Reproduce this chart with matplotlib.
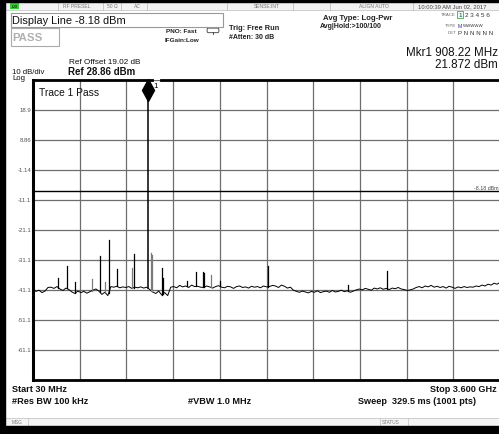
import numpy as np
import matplotlib
matplotlib.use("Agg")
import matplotlib.pyplot as plt
from matplotlib.patches import Rectangle, FancyBboxPatch

# ---------------- data ----------------
start_mhz = 30.0
stop_mhz = 3600.0
ref_level = 28.86
db_per_div = 10.0
display_line = -8.18

y_tick_labels = ["18.9", "8.86", "-1.14", "-11.1", "-21.1", "-31.1", "-41.1", "-51.1", "-61.1"]

noise_level = [
    -40.8, -41.6, -41.2, -42.0, -41.5, -40.3,
    -40.2, -40.6, -40.0, -40.8, -41.3, -40.5, -41.0,
    -41.8, -42.3, -41.5, -42.0, -41.6, -42.2, -41.7,
    -41.2, -40.8, -41.5, -42.6, -41.9, -43.0,
    -40.0, -40.2, -39.9, -40.4, -40.1, -40.3, -40.0, -40.6, -40.2, -40.4, -40.1, -40.5, -40.2,
    -41.0, -41.8, -42.3, -41.5, -42.8, -42.0, -43.0,
    -40.2, -40.0, -40.4, -39.6, -40.1, -39.8, -40.3, -39.5, -40.0, -39.9, -40.2,
    -40.3, -39.8, -40.1, -40.5, -40.0, -39.7, -40.2, -40.4, -39.9, -40.1, -40.6,
    -40.0, -39.8, -40.3, -40.1, -40.5, -39.9, -40.2, -40.0, -40.4, -39.8, -40.1,
    -40.0, -39.6, -39.8, -40.3, -39.5, -39.9, -40.5, -40.2,
    -41.2, -41.6, -41.9, -41.5, -41.8, -42.1, -41.6, -41.9, -41.4, -42.0, -41.7,
    -41.5, -41.9, -41.3, -41.8, -41.6, -41.2, -41.7, -41.4, -41.9, -41.5, -41.1,
    -40.8, -41.1, -40.6, -40.9, -41.2, -40.5, -40.8, -40.4, -40.9, -40.6, -41.0,
    -40.5, -40.7, -40.3, -40.8, -41.0, -41.3, -41.1,
    -40.8, -40.3, -40.0, -40.4, -39.8, -40.1, -39.6, -40.2, -39.9, -40.3,
    -40.0, -40.5, -39.9, -40.2, -40.6, -40.1, -40.4, -40.0, -40.3, -40.1,
    -40.2, -39.8, -40.0, -39.5, -39.8, -39.2, -39.5, -38.9, -39.2, -38.6,
]

spur_freq = [223, 288, 351, 479, 542, 580, 609, 670, 785, 800, 932, 938,
             1018, 1026, 1205, 1276, 1333, 1340, 1391, 1460, 1824, 2436, 2734]
spur_level = [-37.2, -33.2, -38.6, -37.5, -29.9, -38.6, -24.6, -34.1, -33.9, -29.2, -28.8, -29.5,
              -33.9, -37.0, -38.0, -35.0, -35.2, -35.5, -36.1, -38.3, -33.0, -39.5, -34.7]
spur_gray = [479, 580, 785, 932, 938, 1391]

marker_freq = 908.22
marker_level = 21.872

# ---------------- figure ----------------
W, H = 499, 435
fig = plt.figure(figsize=(W / 100, H / 100), dpi=100)
fig.patch.set_facecolor("white")
plt.rcParams["font.family"] = ["Liberation Sans", "DejaVu Sans"]

# overlay axes in pixel coordinates
ov = fig.add_axes([0, 0, 1, 1])
ov.set_xlim(0, W)
ov.set_ylim(H, 0)
ov.axis("off")

def pt(px):
    return px * 72 / 100.0

# black frame
ov.add_patch(Rectangle((0, 0), 5, H, color="black", zorder=5))
ov.add_patch(Rectangle((0, 0), W, 3, color="black", zorder=5))
ov.add_patch(Rectangle((0, 427), W, 8, color="black", zorder=5))

# top status bar
ov.add_patch(Rectangle((5, 3), W - 5, 7.5, facecolor="#f2f2f2", edgecolor="#c8c8c8", lw=0.6, zorder=2))
ov.add_patch(Rectangle((10, 3.5), 9, 6.5, facecolor="#33cc33", edgecolor="none", zorder=3))
ov.text(14.5, 6.8, "LXI", fontsize=3, ha="center", va="center", color="black", zorder=4)
for sx in [58, 103, 121, 147, 227, 293, 330, 413]:
    ov.plot([sx, sx], [3, 10.5], color="#c0c0c0", lw=0.6, zorder=3)
top_small = [(63, "RF PRESEL"), (107, "50 Ω"), (134, "AC"), (254, "SENSE:INT"), (359, "ALIGN AUTO"),
             (418, "10:00:39 AM Jun 02, 2017")]
for x, s in top_small:
    ov.text(x, 7, s, fontsize=3.6 if x < 400 else 4.2, color="#777777" if x < 400 else "#444444",
            ha="left", va="center", zorder=4)

# Display line box
ov.add_patch(Rectangle((11, 14), 212, 13.5, facecolor="white", edgecolor="#999999", lw=0.8, zorder=2))
ov.text(12, 21, "Display Line -8.18 dBm", fontsize=7.9, ha="left", va="center", color="#111111")
# PASS box
ov.add_patch(Rectangle((11, 29), 48, 17.5, facecolor="white", edgecolor="#aaaaaa", lw=0.8, zorder=2))
ov.text(12.5, 37.8, "PASS", fontsize=8.2, fontweight="bold", ha="left", va="center", color="#b0b0b0")

ov.text(166, 31.5, "PNO: Fast", fontsize=4.6, fontweight="bold", ha="left", va="center", color="#222222")
ov.text(165, 40, "IFGain:Low", fontsize=4.6, fontweight="bold", ha="left", va="center", color="#222222")
ov.add_patch(FancyBboxPatch((207.5, 29.5), 11, 3.8, boxstyle="round,pad=0.4,rounding_size=1.5",
                            facecolor="white", edgecolor="#333333", lw=0.6))
ov.plot([213, 213], [33.3, 35], color="#333333", lw=0.6)
ov.text(229, 29, "Trig: Free Run", fontsize=5.3, fontweight="bold", ha="left", va="center", color="#222222")
ov.text(229, 37.5, "#Atten: 30 dB", fontsize=5.0, fontweight="bold", ha="left", va="center", color="#222222")
ov.text(323, 18, "Avg Type: Log-Pwr", fontsize=5.6, fontweight="bold", ha="left", va="center", color="#222222")
ov.text(320, 27, "Avg|Hold:>100/100", fontsize=5.0, fontweight="bold", ha="left", va="center", color="#222222")

# trace block
ov.text(456, 15, "TRACE", fontsize=3.2, ha="right", va="center", color="#666666")
ov.text(456, 26, "TYPE", fontsize=3.2, ha="right", va="center", color="#666666")
ov.text(456, 33.5, "DET", fontsize=3.2, ha="right", va="center", color="#666666")
ov.add_patch(Rectangle((457.5, 11.5), 5.5, 7, facecolor="#e8ffe8", edgecolor="#44aa44", lw=0.6))
ov.text(460.2, 15.2, "1", fontsize=4.6, ha="center", va="center", color="#333399")
ov.text(465, 15.2, "2 3 4 5 6", fontsize=4.6, ha="left", va="center", color="#333333")
ov.text(458, 26, "M", fontsize=3.8, ha="left", va="center", color="#333399")
ov.text(463, 26, "WWWWW", fontsize=3.2, ha="left", va="center", color="#333333")
ov.text(458, 33.5, "P N N N N N", fontsize=4.4, ha="left", va="center", color="#333333")

# marker readout
ov.text(498, 52.5, "Mkr1 908.22 MHz", fontsize=8.4, ha="right", va="center", color="#111111")
ov.text(498, 64.5, "21.872 dBm", fontsize=8.4, ha="right", va="center", color="#111111")

# reference info
ov.text(69, 62, "Ref Offset 19.02 dB", fontsize=5.9, ha="left", va="center", color="#111111")
ov.text(68.5, 72, "Ref 28.86 dBm", fontsize=7.0, fontweight="bold", ha="left", va="center", color="#111111")
ov.text(12, 72.5, "10 dB/div", fontsize=5.6, ha="left", va="center", color="#111111")
ov.text(12, 78, "Log", fontsize=5.6, ha="left", va="center", color="#111111")

# bottom texts
ov.text(12, 390, "Start 30 MHz", fontsize=6.6, fontweight="bold", ha="left", va="center", color="#111111")
ov.text(497, 390, "Stop 3.600 GHz", fontsize=6.6, fontweight="bold", ha="right", va="center", color="#111111")
ov.text(12, 402, "#Res BW 100 kHz", fontsize=6.6, fontweight="bold", ha="left", va="center", color="#111111")
ov.text(188, 402, "#VBW 1.0 MHz", fontsize=6.6, fontweight="bold", ha="left", va="center", color="#111111")
ov.text(358, 402, "Sweep  329.5 ms (1001 pts)", fontsize=6.6, fontweight="bold", ha="left", va="center",
        color="#111111")

# status bar
ov.add_patch(Rectangle((5, 418.5), W - 5, 8.5, facecolor="#f4f4f4", edgecolor="#c8c8c8", lw=0.6, zorder=2))
for sx in [28, 380, 408]:
    ov.plot([sx, sx], [418.5, 427], color="#c8c8c8", lw=0.6, zorder=3)
ov.text(12, 423, "MSG", fontsize=3.4, ha="left", va="center", color="#777777", zorder=4)
ov.text(382, 423, "STATUS", fontsize=3.4, ha="left", va="center", color="#777777", zorder=4)

# y tick labels (pixel layout of grid)
plot_left, plot_top, plot_right, plot_bottom = 33, 81, 500, 381
for i, lab in enumerate(y_tick_labels):
    yy = plot_top + (i + 1) * (plot_bottom - plot_top) / 10.0
    ov.text(31, yy, lab, fontsize=4.3, ha="right", va="center", color="#555555")

# ---------------- main trace axes ----------------
ax = fig.add_axes([plot_left / W, 1 - plot_bottom / H, (plot_right - plot_left) / W,
                   (plot_bottom - plot_top) / H])
ax.set_facecolor("white")
bottom_level = ref_level - 10 * db_per_div
ax.set_xlim(start_mhz, stop_mhz)
ax.set_ylim(bottom_level, ref_level)
ax.set_xticks(np.linspace(start_mhz, stop_mhz, 11))
ax.set_yticks([ref_level - k * db_per_div for k in range(11)])
ax.tick_params(length=0, labelbottom=False, labelleft=False)
ax.grid(True, color="#6e6e6e", lw=0.9)
ax.set_axisbelow(True)
for s in ["top", "right"]:
    ax.spines[s].set_visible(False)
ax.spines["left"].set_linewidth(2.2)
ax.spines["bottom"].set_linewidth(2.0)
ax.spines["left"].set_color("black")
ax.spines["bottom"].set_color("black")

# top border with gap around marker label
g1 = 0.254
g2 = 0.274
ax.plot([0, g1], [1, 1], transform=ax.transAxes, color="black", lw=2.0, clip_on=False, zorder=6)
ax.plot([g2, 1], [1, 1], transform=ax.transAxes, color="black", lw=2.0, clip_on=False, zorder=6)

noise_freq = np.linspace(start_mhz, stop_mhz, len(noise_level))
ax.plot(noise_freq, noise_level, color="black", lw=0.7, zorder=4)

spur_base = np.interp(spur_freq, noise_freq, noise_level)
for f, lv, b in zip(spur_freq, spur_level, spur_base):
    c = "#7a7a7a" if f in spur_gray else "black"
    ax.plot([f, f], [b, lv], color=c, lw=0.9, zorder=4)

mk_base = np.interp(marker_freq, noise_freq, noise_level)
ax.plot([marker_freq, marker_freq], [mk_base, marker_level], color="black", lw=1.1, zorder=5)
ax.plot([marker_freq, marker_freq], [marker_level, ref_level - 3.3], color="black", lw=1.1, zorder=5)
ax.plot([marker_freq], [ref_level - 3.3], marker="d", markersize=11, color="black", zorder=7, clip_on=False)
ax.text(marker_freq + 40, ref_level - 1.7, "1", fontsize=5.8, ha="left", va="center", color="black", zorder=7)

# display line
ax.axhline(display_line, color="black", lw=1.0, zorder=3)
ax.text(stop_mhz - 10, display_line + 1.3, "-8.18 dBm", fontsize=3.8, ha="right", va="center",
        color="#444444", zorder=5)

ax.text(0.013, 0.975, "Trace 1 Pass", transform=ax.transAxes, fontsize=7.4, ha="left", va="top",
        color="#111111", zorder=6)

fig.savefig("out.png", dpi=100, facecolor="white")
